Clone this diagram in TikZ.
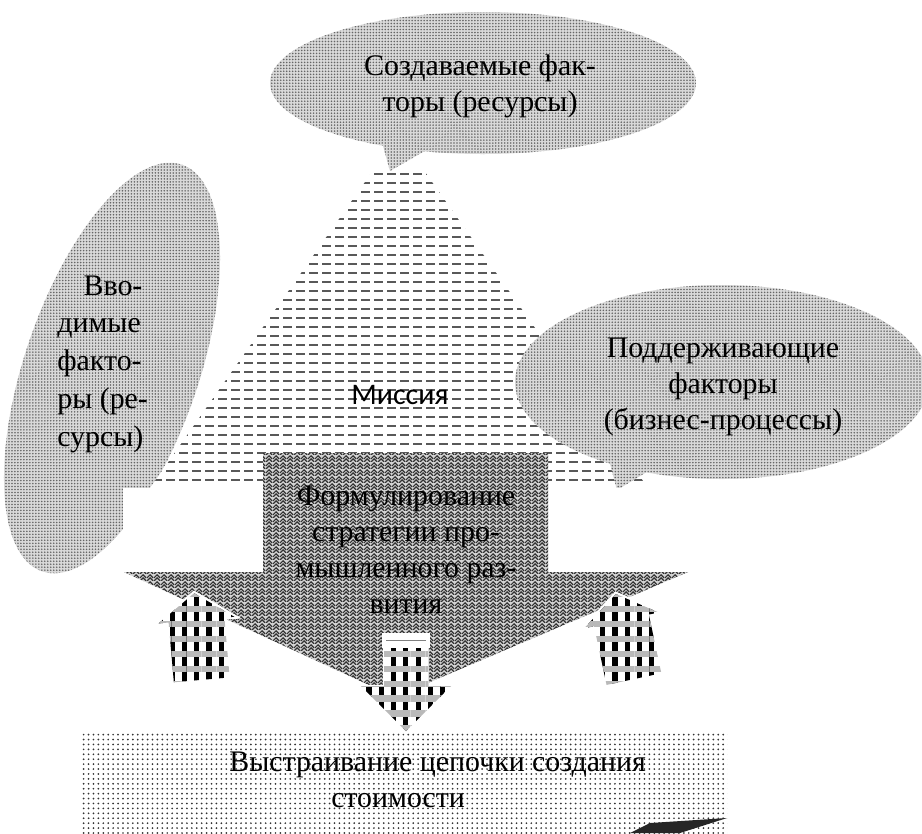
\documentclass[tikz,border=0pt]{standalone}
\usepackage{fontspec}
\setmainfont{Liberation Serif}
\newfontfamily\timesfont{Liberation Serif}
\newfontfamily\missfont{Carlito}
\usetikzlibrary{patterns.meta}

\tikzdeclarepattern{
  name=herring, type=uncolored,
  bounding box={(0,0) and (4pt,4pt)},
  tile size={(4pt,4pt)},
  code={\draw[line width=0.75pt] (0,0) -- (2pt,2pt) -- (4pt,0) (0,2pt) -- (2pt,4pt) -- (4pt,2pt);}
}

\begin{document}
\begin{tikzpicture}[x=0.02cm, y=-0.02cm,
  txt/.style={font=\timesfont\fontsize{17}{20.5}\selectfont, align=center, inner sep=0pt},
  fact/.style={preaction={fill=gray!30}, pattern={Dots[distance=1.7pt, radius=0.5pt]}, pattern color=black!60},
  missrow/.style={black!65, line width=1.1pt, dash pattern=on 5pt off 2.4pt},
  strat/.style={preaction={fill=gray!35}, pattern=herring, pattern color=black!80},
  chk/.style={fill=white, draw=white, line width=1.2pt,
    postaction={pattern={Lines[angle=90, distance=7pt, line width=3pt]}, pattern color=black},
    postaction={pattern={Lines[distance=8.5pt, line width=3.6pt]}, pattern color=gray!55}},
  tilt/.style={chk, line width=2.5pt},
  base/.style={fill=white, postaction={pattern={Dots[distance=2.8pt, radius=0.55pt]}, pattern color=black!80}}]
\useasboundingbox (0,0) rectangle (922,833);
\fill[white] (0,0) rectangle (922,833);

% input factors
\path[fact, shift={(112,368)}, rotate=71] (0,0) ellipse [x radius=215, y radius=87];

% mission
\fill[white] (372,172) -- (425,172) -- (648,488) -- (150,488) -- cycle;
\begin{scope}
  \clip (372,172) -- (425,172) -- (648,488) -- (150,488) -- cycle;
  \foreach \yy in {174,183,...,490} \draw[missrow] (140,\yy) -- (660,\yy);
\end{scope}

% created and supporting factors
\path[fact] (483,83) ellipse [x radius=213, y radius=71];
\path[fact] (380,135) -- (390,171) -- (435,145) -- cycle;
\path[fact] (722,382) ellipse [x radius=207, y radius=97];
\path[fact] (605,445) -- (617,490) -- (650,470) -- cycle;

% strategy
\fill[white] (123,488) rectangle (690,572);
\path[strat] (263,453) -- (548,453) -- (548,572) -- (688,572) -- (395,697) -- (124,572) -- (263,572) -- cycle;

% feedback and output arrows
\path[tilt, shift={(198,637)}, rotate=5] (0,-44) -- (38,-17) -- (28,-17) -- (28,43) -- (-28,43) -- (-28,-17) -- (-38,-17) -- cycle;
\path[tilt, shift={(625,637)}, rotate=12] (0,-44) -- (38,-17) -- (28,-17) -- (28,43) -- (-28,43) -- (-28,-17) -- (-38,-17) -- cycle;
\fill[white] (382,633) rectangle (430,648);
\draw[gray] (386,640) -- (426,640);
\path[chk] (384,648) -- (428,648) -- (428,686) -- (451,686) -- (406,731) -- (361,686) -- (384,686) -- cycle;

% value chain
\path[base] (82,732) rectangle (727,840);
\fill[black!85] (630,833) -- (650,823) -- (727,818) -- (680,833) -- cycle;

\node[txt] (made) at (480,86) {Создаваемые фак-\\торы (ресурсы)};
\node[txt, font=\timesfont\fontsize{17}{21.5}\selectfont, align=left, anchor=west] (input) at (57,364) {\hspace*{15pt}Вво-\\димые\\факто-\\ры (ре-\\сурсы)};
\node[txt] (support) at (723,387) {Поддерживающие\\факторы\\(бизнес-процессы)};
\node[txt, font=\missfont\fontsize{17}{20}\selectfont] (miss) at (400,395) {Миссия};
\node[txt] (strat) at (406,550) {Формулирование\\стратегии про-\\мышленного раз-\\вития};
\node[txt, align=left, anchor=west] (chain) at (229,780) {Выстраивание цепочки создания\\\hspace*{58pt}стоимости};
\end{tikzpicture}
\end{document}
